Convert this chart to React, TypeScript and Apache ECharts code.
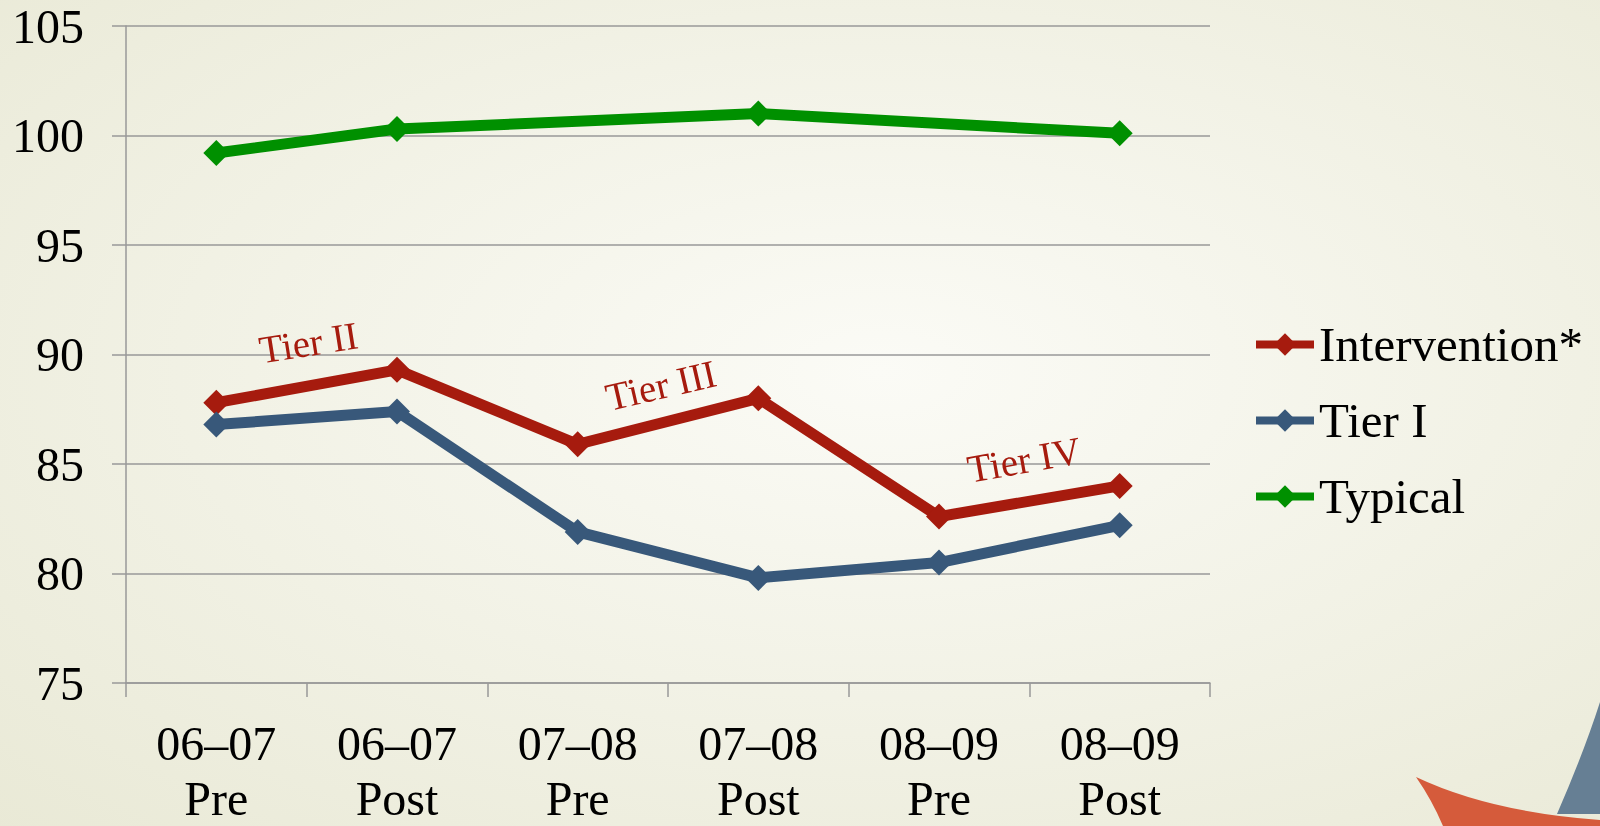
import React, { useEffect, useRef } from "react";
import * as echarts from "echarts";

const categories = ["06–07\nPre", "06–07\nPost", "07–08\nPre", "07–08\nPost", "08–09\nPre", "08–09\nPost"];
const seriesNames = ["Intervention*", "Tier I", "Typical"];
const intervention = [87.8, 89.3, 85.9, 88.0, 82.6, 84.0];
const tierOne = [86.8, 87.4, 81.9, 79.8, 80.5, 82.2];
const typical = [99.2, 100.3, null, 101.0, null, 100.1];
const seriesColors = ["#A61B0E", "#38587A", "#009000"];
const yTicks = { min: 75, max: 105, interval: 5 };

// Phase annotations: position between two categories (fractional index) and value
const tierNotes = [
  { text: "Tier II", at: 0.51, value: 90.55, angle: 9 },
  { text: "Tier III", at: 2.46, value: 88.6, angle: 13 },
  { text: "Tier IV", at: 4.47, value: 85.2, angle: 10 },
];

const FONT = "'Liberation Serif', 'Times New Roman', serif";

// Slide corner decoration shapes
const sailPath = "M1600 702 Q1584 752 1557 814 L1600 814 Z";
const swooshPath = "M1416 777 Q1490 812 1600 820 L1600 826 L1443 826 Q1432 800 1416 777 Z";

export default function App() {
  const ref = useRef<HTMLDivElement>(null);

  useEffect(() => {
    if (!ref.current) return;
    echarts.graphic.registerShape("sail", echarts.graphic.extendPath(sailPath, {}));
    echarts.graphic.registerShape("swoosh", echarts.graphic.extendPath(swooshPath, {}));
    const chart = echarts.init(ref.current, undefined, { renderer: "svg" });

    const axisGray = { color: "#999999", width: 1.5 };
    const makeSeries = (name: string, data: (number | null)[], color: string) => ({
      name,
      type: "line",
      data,
      connectNulls: true,
      symbol: "diamond",
      symbolSize: 26,
      lineStyle: { color, width: 11 },
      itemStyle: { color },
      z: 3,
    });

    chart.setOption({
      animation: false,
      backgroundColor: {
        type: "radial",
        x: 0.55,
        y: 0.45,
        r: 1.05,
        colorStops: [
          { offset: 0, color: "#FBFBF6" },
          { offset: 1, color: "#E3E3CB" },
        ],
      },
      grid: { left: 126, top: 26, right: 390, bottom: 142 },
      legend: {
        orient: "vertical",
        left: 1247,
        top: 315,
        itemWidth: 58,
        itemHeight: 28,
        itemGap: 27,
        data: seriesNames,
        lineStyle: { width: 8 },
        textStyle: { fontFamily: FONT, fontSize: 49, color: "#000", lineHeight: 48 },
      },
      xAxis: {
        type: "category",
        data: categories,
        boundaryGap: true,
        axisLine: { lineStyle: axisGray },
        axisTick: { show: true, length: 14, lineStyle: axisGray, interval: 0 },
        axisLabel: {
          interval: 0,
          margin: 33,
          color: "#000",
          fontFamily: FONT,
          fontSize: 48,
          lineHeight: 55,
        },
        splitLine: { show: false },
      },
      yAxis: {
        type: "value",
        min: yTicks.min,
        max: yTicks.max,
        interval: yTicks.interval,
        axisLine: { show: true, lineStyle: axisGray },
        axisTick: { show: true, length: 14, lineStyle: axisGray },
        axisLabel: { margin: 42, color: "#000", fontFamily: FONT, fontSize: 48 },
        splitLine: { show: true, lineStyle: axisGray },
      },
      series: [
        makeSeries(seriesNames[0], intervention, seriesColors[0]),
        makeSeries(seriesNames[1], tierOne, seriesColors[1]),
        makeSeries(seriesNames[2], typical, seriesColors[2]),
      ],
    });

    const toPixel = (at: number, value: number) => {
      const i0 = Math.floor(at);
      const p0 = chart.convertToPixel({ gridIndex: 0 }, [i0, value]) as number[];
      const p1 = chart.convertToPixel({ gridIndex: 0 }, [i0 + 1, value]) as number[];
      const f = at - i0;
      return [p0[0] + (p1[0] - p0[0]) * f, p0[1]];
    };

    const noteGraphics = tierNotes.map((n) => {
      const [px, py] = toPixel(n.at, n.value);
      return {
        type: "text",
        x: px,
        y: py,
        rotation: (n.angle * Math.PI) / 180,
        z: 10,
        style: {
          text: n.text,
          fill: seriesColors[0],
          font: `39px ${FONT}`,
          align: "center",
          verticalAlign: "middle",
        },
      };
    });

    chart.setOption({
      graphic: [
        { type: "swoosh", x: 0, y: 0, z: 0, silent: true, style: { fill: "#D55B3B" } },
        { type: "sail", x: 0, y: 0, z: 0, silent: true, style: { fill: "#667F94" } },
        ...noteGraphics,
      ],
    });

    return () => chart.dispose();
  }, []);

  return (
    <div
      ref={ref}
      style={{ position: "fixed", left: 0, top: 0, width: 1600, height: 826 }}
    />
  );
}
